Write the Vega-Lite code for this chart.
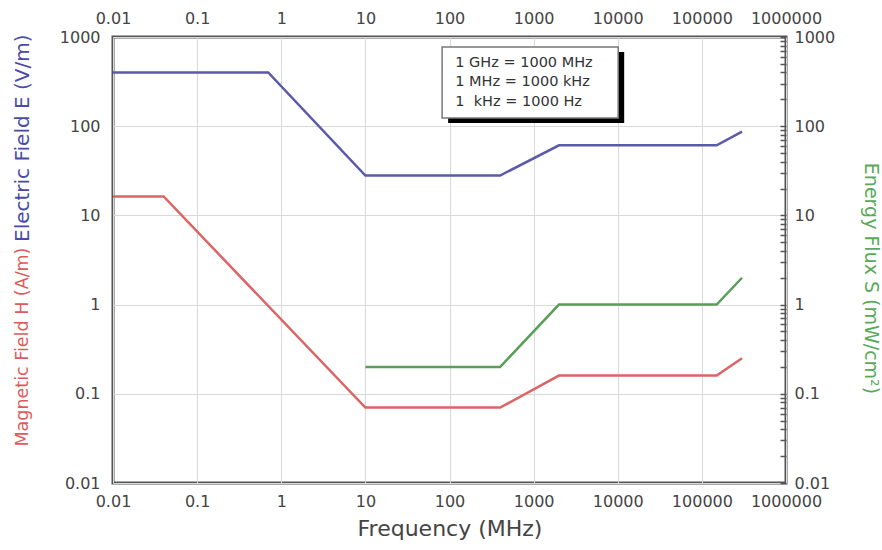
{
  "$schema": "https://vega.github.io/schema/vega-lite/v6.json",
  "width": 673,
  "height": 446,
  "autosize": {"type": "none"},
  "padding": {"left": 113, "top": 37, "right": 96, "bottom": 67},
  "background": "white",
  "config": {
    "font": "DejaVu Sans",
    "view": {"stroke": "#555", "strokeWidth": 3},
    "axis": {
      "domain": false,
      "ticks": false,
      "labelFont": "DejaVu Sans",
      "labelFontSize": 16,
      "labelColor": "#444",
      "labelFlush": false,
      "labelOverlap": false,
      "labelBound": false,
      "gridColor": "#d9d9d9",
      "gridWidth": 1,
      "titleFont": "DejaVu Sans",
      "titleFontWeight": "normal"
    }
  },
  "datasets": {
    "limits": [
      {"s": "E", "f": 0.01, "v": 400},
      {"s": "E", "f": 0.7, "v": 400},
      {"s": "E", "f": 10, "v": 28},
      {"s": "E", "f": 400, "v": 28},
      {"s": "E", "f": 2000, "v": 61},
      {"s": "E", "f": 150000, "v": 61},
      {"s": "E", "f": 300000, "v": 87},
      {"s": "H", "f": 0.01, "v": 16.3},
      {"s": "H", "f": 0.04, "v": 16.3},
      {"s": "H", "f": 10, "v": 0.07},
      {"s": "H", "f": 400, "v": 0.07},
      {"s": "H", "f": 2000, "v": 0.16},
      {"s": "H", "f": 150000, "v": 0.16},
      {"s": "H", "f": 300000, "v": 0.25},
      {"s": "S", "f": 10, "v": 0.2},
      {"s": "S", "f": 400, "v": 0.2},
      {"s": "S", "f": 2000, "v": 1},
      {"s": "S", "f": 150000, "v": 1},
      {"s": "S", "f": 300000, "v": 2}
    ],
    "box": [
      {"f1": 81.7, "f2": 10120, "v1": 773, "v2": 123.7}
    ],
    "notes": [
      {"f": 117, "v": 512, "t": "1 GHz = 1000 MHz"},
      {"f": 117, "v": 313, "t": "1 MHz = 1000 kHz"},
      {"f": 117, "v": 186.6, "t": "1\u00a0 kHz = 1000 Hz"}
    ]
  },
  "layer": [
    {
      "data": {"name": "limits"},
      "transform": [{"filter": "datum.s === 'E'"}],
      "mark": {"type": "line", "color": "#5a5aa8", "strokeWidth": 2.5},
      "encoding": {
        "x": {
          "field": "f", "type": "quantitative",
          "scale": {"type": "log", "domain": [0.01, 1000000]},
          "axis": {
            "orient": "bottom",
            "values": [0.01, 0.1, 1, 10, 100, 1000, 10000, 100000, 1000000],
            "format": "~r",
            "grid": true,
            "labelPadding": 10,
            "title": "Frequency (MHz)",
            "titleFontSize": 22,
            "titleColor": "#444",
            "titlePadding": 9
          }
        },
        "y": {
          "field": "v", "type": "quantitative",
          "scale": {"type": "log", "domain": [0.01, 1000]},
          "axis": {
            "orient": "left",
            "values": [0.01, 0.1, 1, 10, 100, 1000],
            "format": "~r",
            "grid": true,
            "labelPadding": 13,
            "title": "Electric Field E (V/m)",
            "titleColor": "#4a4aa8",
            "titleFontSize": 20,
            "titleAngle": -90,
            "titleAlign": "right",
            "titleBaseline": "middle",
            "titleX": -91,
            "titleY": -3
          }
        }
      }
    },
    {
      "data": {"name": "limits"},
      "transform": [{"filter": "datum.s === 'H'"}],
      "mark": {"type": "line", "color": "#dc6464", "strokeWidth": 2.5},
      "encoding": {
        "x": {
          "field": "f", "type": "quantitative",
          "scale": {"type": "log", "domain": [0.01, 1000000]},
          "axis": {
            "orient": "top",
            "values": [0.01, 0.1, 1, 10, 100, 1000, 10000, 100000, 1000000],
            "format": "~r",
            "grid": false,
            "labelPadding": 11,
            "title": null
          }
        },
        "y": {
          "field": "v", "type": "quantitative",
          "scale": {"type": "log", "domain": [0.01, 1000]},
          "axis": {
            "orient": "left",
            "labels": false,
            "grid": false,
            "title": "Magnetic Field H (A/m)",
            "titleColor": "#e05a5a",
            "titleFontSize": 17.5,
            "titleAngle": -90,
            "titleAlign": "left",
            "titleBaseline": "middle",
            "titleX": -91,
            "titleY": 409
          }
        }
      }
    },
    {
      "data": {"name": "limits"},
      "transform": [{"filter": "datum.s === 'S'"}],
      "mark": {"type": "line", "color": "#5a9e5a", "strokeWidth": 2.5},
      "encoding": {
        "x": {
          "field": "f", "type": "quantitative",
          "scale": {"type": "log", "domain": [0.01, 1000000]},
          "axis": null
        },
        "y": {
          "field": "v", "type": "quantitative",
          "scale": {"type": "log", "domain": [0.01, 1000]},
          "axis": {
            "orient": "right",
            "values": [0.01, 0.02, 0.03, 0.04, 0.05, 0.06, 0.07, 0.08, 0.09, 0.1, 0.2, 0.3, 0.4, 0.5, 0.6, 0.7, 0.8, 0.9, 1, 2, 3, 4, 5, 6, 7, 8, 9, 10, 20, 30, 40, 50, 60, 70, 80, 90, 100, 200, 300, 400, 500, 600, 700, 800, 900, 1000],
            "format": "~r",
            "labelExpr": "abs(log(datum.value)/LN10 - round(log(datum.value)/LN10)) < 0.000001 ? datum.label : ''",
            "grid": false,
            "ticks": true,
            "tickSize": -6,
            "tickColor": "#555",
            "tickWidth": 1.5,
            "labelPadding": 14,
            "title": "Energy Flux S (mW/cm²)",
            "titleColor": "#5aaa5a",
            "titleFontSize": 19,
            "titleAngle": 90,
            "titleAlign": "center",
            "titleBaseline": "middle",
            "titleX": 84,
            "titleY": 241
          }
        }
      }
    },
    {
      "data": {"name": "box"},
      "mark": {"type": "rect", "fill": "black", "xOffset": 6, "x2Offset": 6, "yOffset": 5, "y2Offset": 5},
      "encoding": {
        "x": {"field": "f1", "type": "quantitative", "scale": {"type": "log", "domain": [0.01, 1000000]}, "axis": null},
        "x2": {"field": "f2"},
        "y": {"field": "v1", "type": "quantitative", "scale": {"type": "log", "domain": [0.01, 1000]}, "axis": null},
        "y2": {"field": "v2"}
      }
    },
    {
      "data": {"name": "box"},
      "mark": {"type": "rect", "fill": "white", "stroke": "#777", "strokeWidth": 1.5},
      "encoding": {
        "x": {"field": "f1", "type": "quantitative", "scale": {"type": "log", "domain": [0.01, 1000000]}, "axis": null},
        "x2": {"field": "f2"},
        "y": {"field": "v1", "type": "quantitative", "scale": {"type": "log", "domain": [0.01, 1000]}, "axis": null},
        "y2": {"field": "v2"}
      }
    },
    {
      "data": {"name": "notes"},
      "mark": {"type": "text", "align": "left", "baseline": "middle", "fontSize": 14.5, "color": "#333", "font": "DejaVu Sans"},
      "encoding": {
        "x": {"field": "f", "type": "quantitative", "scale": {"type": "log", "domain": [0.01, 1000000]}, "axis": null},
        "y": {"field": "v", "type": "quantitative", "scale": {"type": "log", "domain": [0.01, 1000]}, "axis": null},
        "text": {"field": "t"}
      }
    }
  ],
  "resolve": {
    "scale": {"y": "independent"},
    "axis": {"x": "independent", "y": "independent"}
  }
}
